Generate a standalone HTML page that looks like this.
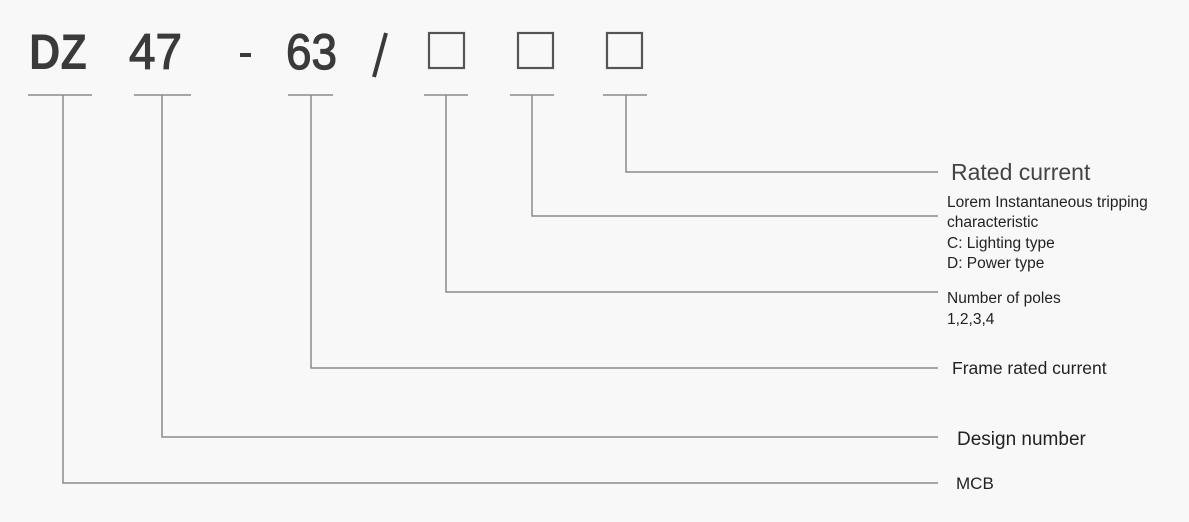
<!DOCTYPE html>
<html><head><style>html,body{margin:0;padding:0;background:#f8f8f8;}svg{display:block}</style></head>
<body>
<svg width="1189" height="522" viewBox="0 0 1189 522" xmlns="http://www.w3.org/2000/svg">
<rect width="1189" height="522" fill="#f8f8f8"/>
<g font-family="Liberation Sans, sans-serif" font-size="50" fill="#3a3a3a">
<text x="29" y="69" textLength="58" lengthAdjust="spacingAndGlyphs" font-weight="bold">DZ</text>
<text x="129" y="69" textLength="53" lengthAdjust="spacingAndGlyphs" stroke="#3a3a3a" stroke-width="1.2">47</text>
<rect x="240" y="53" width="11" height="4"/>
<text x="286" y="69" textLength="51" lengthAdjust="spacingAndGlyphs" stroke="#3a3a3a" stroke-width="1.2">63</text>
<line x1="386" y1="33" x2="374" y2="77" stroke="#3a3a3a" stroke-width="4"/>
</g>
<g fill="none" stroke="#555" stroke-width="2.2">
<rect x="429" y="33" width="35" height="35"/>
<rect x="518" y="33" width="35" height="35"/>
<rect x="607" y="33" width="35" height="35"/>
</g>
<g stroke="#8a8a8a" stroke-width="1.5" fill="none">
<line x1="28" y1="95" x2="92" y2="95"/>
<line x1="134" y1="95" x2="191" y2="95"/>
<line x1="288" y1="95" x2="333" y2="95"/>
<line x1="424" y1="95" x2="468" y2="95"/>
<line x1="510" y1="95" x2="554" y2="95"/>
<line x1="603" y1="95" x2="647" y2="95"/>
<polyline points="626,95 626,172 938,172"/>
<polyline points="532,95 532,216 938,216"/>
<polyline points="446,95 446,292 938,292"/>
<polyline points="311,95 311,368 938,368"/>
<polyline points="162,95 162,437 938,437"/>
<polyline points="63,95 63,483 938,483"/>
</g>
<g font-family="Liberation Sans, sans-serif" fill="#222">
<text x="951" y="180" font-size="23" fill="#444">Rated  current</text>
<text x="947" y="207" font-size="15.5">Lorem Instantaneous tripping</text>
<text x="947" y="227" font-size="15.5">characteristic</text>
<text x="947" y="248" font-size="15.5">C: Lighting type</text>
<text x="947" y="268" font-size="15.5">D: Power type</text>
<text x="947" y="303" font-size="15.5">Number of poles</text>
<text x="947" y="324" font-size="15.5">1,2,3,4</text>
<text x="952" y="374" font-size="17.5">Frame rated current</text>
<text x="957" y="445" font-size="19">Design number</text>
<text x="956" y="489" font-size="17">MCB</text>
</g>
</svg>
</body></html>
